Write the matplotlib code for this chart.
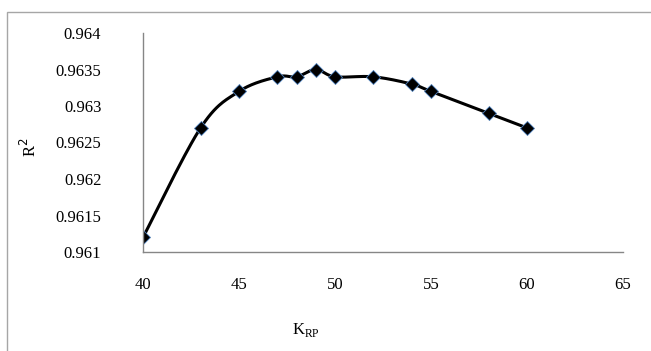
import numpy as np
import matplotlib
matplotlib.use("Agg")
import matplotlib.pyplot as plt
from matplotlib.patches import Rectangle

k_rp = [40, 43, 45, 47, 48, 49, 50, 52, 54, 55, 58, 60]
r2 = [0.9612, 0.9627, 0.9632, 0.9634, 0.9634, 0.9635, 0.9634, 0.9634, 0.9633, 0.9632, 0.9629, 0.9627]
x_ticks = [40, 45, 50, 55, 60, 65]
y_ticks = [0.961, 0.9615, 0.962, 0.9625, 0.963, 0.9635, 0.964]
y_tick_labels = ["0.961", "0.9615", "0.962", "0.9625", "0.963", "0.9635", "0.964"]

plt.rcParams['font.family'] = ['Liberation Serif', 'DejaVu Serif']

def smooth(xs, ys, n=30):
    xs = np.asarray(xs, float); ys = np.asarray(ys, float)
    px = np.concatenate([[xs[0]], xs, [xs[-1]]])
    py = np.concatenate([[ys[0]], ys, [ys[-1]]])
    ox, oy = [], []
    t = np.linspace(0, 1, n)
    for i in range(1, len(px) - 2):
        p0 = np.array([px[i], py[i]]); p3 = np.array([px[i+1], py[i+1]])
        p1 = p0 + (np.array([px[i+1], py[i+1]]) - np.array([px[i-1], py[i-1]])) / 6
        p2 = p3 - (np.array([px[i+2], py[i+2]]) - np.array([px[i], py[i]])) / 6
        b = ((1-t)**3)[:, None]*p0 + (3*(1-t)**2*t)[:, None]*p1 + (3*(1-t)*t**2)[:, None]*p2 + (t**3)[:, None]*p3
        ox.extend(b[:, 0]); oy.extend(b[:, 1])
    return ox, oy

fig = plt.figure(figsize=(6.51, 3.51), dpi=100)
fig.patches.append(Rectangle((7/651, -0.1), 1.2, 1 - 12/351 + 0.1, transform=fig.transFigure,
                             fill=False, edgecolor='#a6a6a6', linewidth=1))
ax = fig.add_axes([143/651, 1 - 252/351, (623-143)/651, (252-33)/351])

sx, sy = smooth(k_rp, r2)
ax.plot(sx, sy, color='black', lw=2.2, solid_capstyle='round')
ax.plot(k_rp, r2, linestyle='none', marker='D', ms=7, mfc='black', mec='#4f81bd', mew=0.6)

ax.set_xlim(40, 65)
ax.set_ylim(0.961, 0.964)
ax.set_xticks(x_ticks)
ax.set_yticks(y_ticks)
ax.set_yticklabels(y_tick_labels)
ax.tick_params(axis='both', length=0, labelsize=12, colors='black')
ax.tick_params(axis='y', pad=30)
ax.tick_params(axis='x', pad=18)
for s in ['top', 'right']:
    ax.spines[s].set_visible(False)
for s in ['left', 'bottom']:
    ax.spines[s].set_color('#868686')
    ax.spines[s].set_linewidth(1)

fig.text(30/651, 1 - 147/351, r"R$^2$", fontsize=12, rotation=90, ha='center', va='center')
fig.text(306/651, 1 - 330/351, r"K$_{\mathregular{RP}}$", fontsize=12, ha='center', va='center')

fig.savefig("out.png", dpi=100)
